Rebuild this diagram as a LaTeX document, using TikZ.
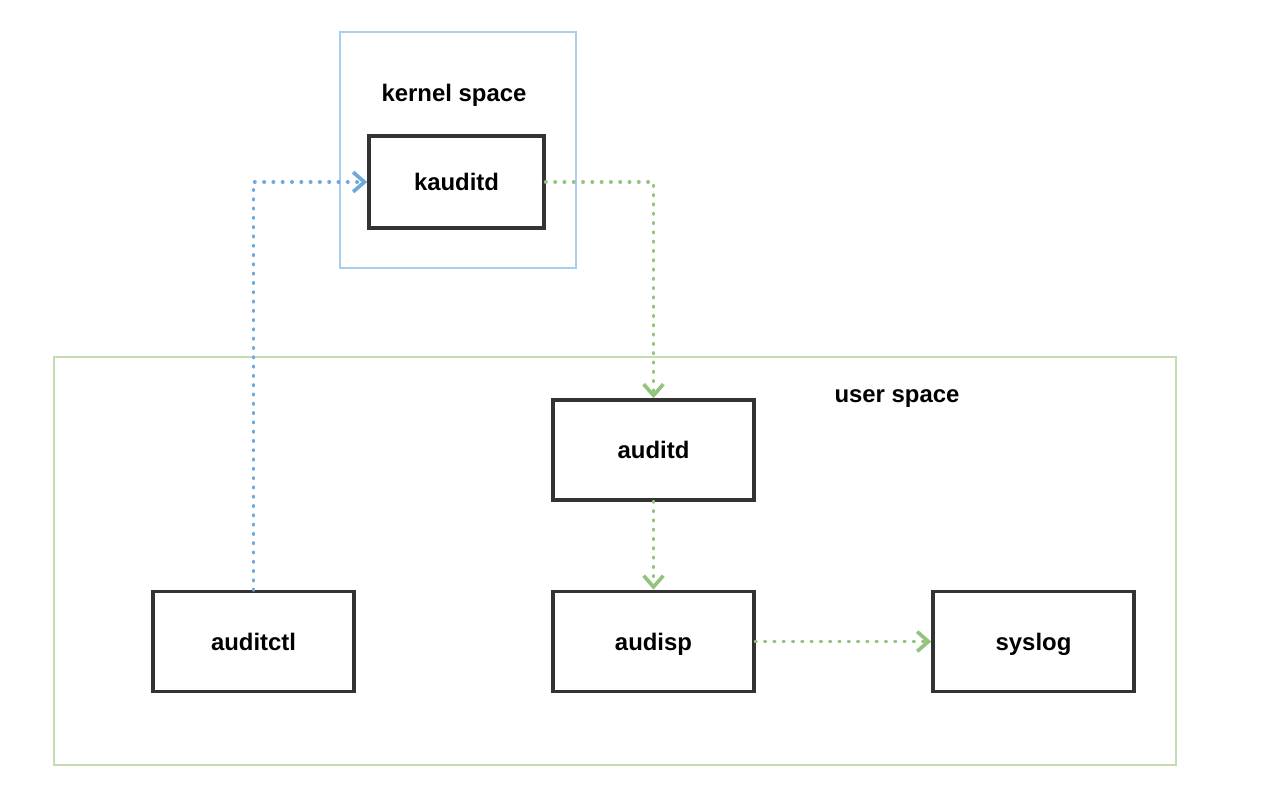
\documentclass[tikz,border=0pt]{standalone}
\usepackage{fontspec}
\setmainfont{Liberation Sans}
\usetikzlibrary{arrows.meta,positioning}
\definecolor{boxgray}{HTML}{333333}
\definecolor{kframe}{HTML}{A9CFEF}
\definecolor{uframe}{HTML}{C2DDB2}
\definecolor{bluearrow}{HTML}{6FA8DC}
\definecolor{greenarrow}{HTML}{93C47D}
\tikzset{
  procbox/.style={draw=boxgray, line width=2.6pt, fill=white, minimum width=201*0.025cm, minimum height=100*0.025cm, inner sep=0pt, text height=12.5pt, text depth=0pt, font=\fontsize{17}{20}\selectfont\bfseries},
  spaceframe/.style={line width=1.1pt, inner sep=0pt},
  framelabel/.style={font=\fontsize{17}{20}\selectfont\bfseries, inner sep=0pt, text height=12.5pt, text depth=0pt},
  dotlink/.style={line width=2.8pt, line cap=round, dash pattern=on 0.01pt off 6.6pt,
    -{Straight Barb[length=8pt, width=14pt, line width=2.6pt]}},
  bluelink/.style={dotlink, draw=bluearrow},
  greenlink/.style={dotlink, draw=greenarrow},
}
\begin{document}
\begin{tikzpicture}[x=0.025cm, y=-0.025cm]
\useasboundingbox[fill=white] (0,0) rectangle (1268,792);
% frames
\draw[spaceframe, draw=kframe] (340,32) rectangle (576,268);
\draw[spaceframe, draw=uframe] (54,357) rectangle (1176,765);
\node[framelabel] (klabel) at (454,93) {kernel space};
\node[framelabel] (ulabel) at (897,394) {user space};
% process boxes
\node[procbox, minimum width=175*0.025cm, minimum height=92*0.025cm] (kauditd) at (456.5,182) {kauditd};
\node[procbox] (auditd) at (653.5,450) {auditd};
\node[procbox] (auditctl) at (253.5,641.5) {auditctl};
\node[procbox] (audisp) at (653.5,641.5) {audisp};
\node[procbox] (syslog) at (1033.5,641.5) {syslog};
% connectors
\draw[bluelink] (auditctl.north) |- (kauditd.west);
\draw[greenlink] (kauditd.east) -| (auditd.north);
\draw[greenlink] (auditd.south) -- (audisp.north);
\draw[greenlink] (audisp.east) -- (syslog.west);
\end{tikzpicture}
\end{document}
